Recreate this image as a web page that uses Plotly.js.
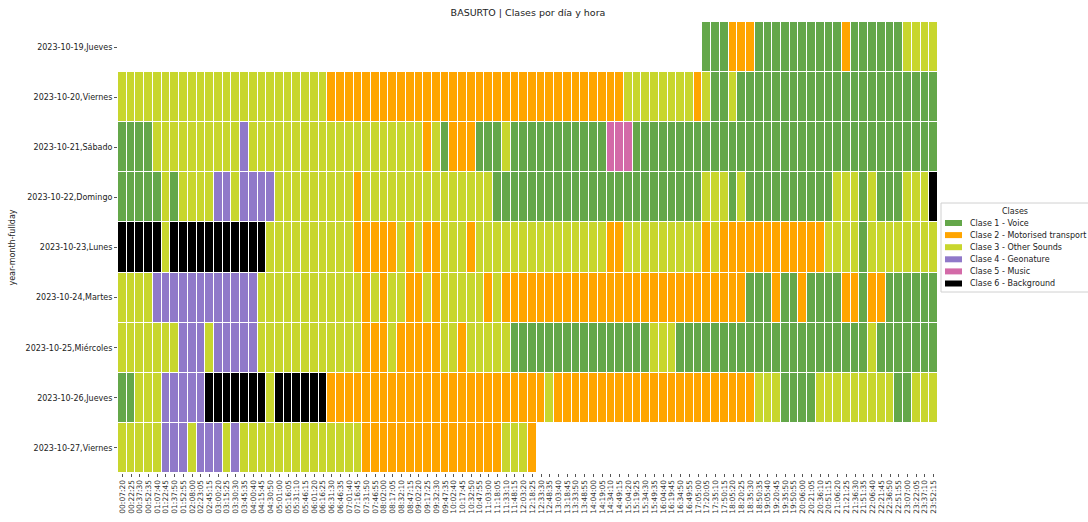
<!DOCTYPE html>
<html>
<head>
<meta charset="utf-8">
<script src="https://cdn.plot.ly/plotly-3.0.1.min.js"></script>
<style>html,body{margin:0;padding:0;background:#fff;}#chart{width:1088px;height:522px;}</style>
</head>
<body>
<div id="chart"></div>
<script>
const _ = null;

const days = ["2023-10-19,Jueves","2023-10-20,Viernes","2023-10-21,Sábado","2023-10-22,Domingo","2023-10-23,Lunes","2023-10-24,Martes","2023-10-25,Miércoles","2023-10-26,Jueves","2023-10-27,Viernes"];

const times = ["00:07:20","00:22:25","00:37:30","00:52:35","01:07:40","01:22:45","01:37:50","01:52:55","02:08:00","02:23:05","02:45:15","03:00:20","03:15:25","03:30:30","03:45:35","04:00:40","04:15:45","04:30:50",
"05:01:00","05:16:05","05:31:10","05:46:15","06:01:20","06:16:25","06:31:30","06:46:35","07:01:40","07:16:45","07:31:50","07:46:55","08:02:00","08:17:05","08:32:10","08:47:15","09:02:20","09:17:25","09:32:30","09:47:35","10:02:40","10:17:45","10:32:50","10:47:55","11:03:00","11:18:05","11:33:10","11:48:15","12:03:20","12:18:25","12:33:30","12:48:35","13:03:40","13:18:45","13:33:50","13:48:55","14:04:00","14:19:05","14:34:10","14:49:15","15:04:20","15:19:25","15:34:30","15:49:35","16:04:40","16:19:45","16:34:50","16:49:55","17:05:00","17:20:05","17:35:10","17:50:15","18:05:20","18:20:25","18:35:30","18:50:35","19:05:40","19:20:45","19:35:50","19:50:55","20:06:00","20:21:05","20:36:10","20:51:15","21:06:20","21:21:25","21:36:30","21:51:35","22:06:40","22:21:45","22:36:50","22:51:55","23:07:00","23:22:05","23:37:10","23:52:15"];

const classNames = ["Clase 1 - Voice","Clase 2 - Motorised transport","Clase 3 - Other Sounds","Clase 4 - Geonature","Clase 5 - Music","Clase 6 - Background"];
const classColors = ["#64a74a","#ffa500","#c8d62e","#9079c9","#d36aa8","#000000"];

const d19 = [_,_,_,_,_,_,_,_,_,_, _,_,_,_,_,_,_,_,_,_, _,_,_,_,_,_,_,_,_,_, _,_,_,_,_,_,_,_,_,_, _,_,_,_,_,_,_,_,_,_, _,_,_,_,_,_,_,_,_,_,
  _,_,_,_,_,_,_,1,1,1, 2,2,2,1,1,1,1,1,1,1, 1,1,1,2,1,1,1,1,1,1, 3,3,3,3];
const d20 = [3,3,3,3,3,3,3,3,3,3, 3,3,3,3,3,3,3,3,3,3, 3,3,3,3,2,2,2,2,2,2, 2,2,2,2,2,2,2,2,2,2, 2,2,2,2,2,2,2,2,2,2, 2,2,2,2,2,2,2,2,3,3,
  3,3,3,3,3,3,2,3,1,1, 3,1,1,1,1,1,1,1,1,1, 1,1,1,1,1,1,1,1,1,1, 1,1,1,1];
const d21 = [1,1,1,1,3,3,3,3,3,3, 3,3,3,3,4,3,3,3,3,3, 3,3,3,3,3,3,3,3,3,3, 3,3,3,3,3,2,3,1,2,2, 2,1,1,1,3,1,1,1,1,1, 1,1,1,1,1,1,5,5,5,1,
  1,1,1,1,1,1,1,1,1,1, 1,1,1,1,1,1,1,1,1,1, 1,1,1,1,1,1,1,1,1,1, 1,1,1,1];
const d22 = [1,1,1,1,1,3,1,3,3,3, 3,4,4,3,4,4,4,4,3,3, 3,3,3,3,3,3,3,2,3,3, 3,3,3,3,3,3,3,3,3,3, 3,3,3,1,1,1,1,1,1,1, 1,1,1,1,1,1,1,1,1,1,
  1,1,1,1,1,1,1,3,3,3, 1,3,1,1,1,1,1,1,1,1, 1,1,3,3,3,1,3,1,1,1, 3,3,3,6];
const d23 = [6,6,6,6,6,3,6,6,6,6, 6,6,6,6,6,6,6,3,3,3, 3,3,3,3,3,3,3,2,2,2, 2,2,3,2,3,2,2,3,3,3, 2,3,3,3,3,3,3,3,3,3, 3,3,3,3,3,3,2,2,3,3,
  3,3,3,3,3,3,3,2,3,2, 2,2,2,2,2,2,2,2,2,2, 2,3,3,3,3,1,3,3,3,3, 3,3,3,3];
const d24 = [3,3,3,3,4,4,4,4,4,4, 4,4,4,4,4,4,3,3,3,3, 3,3,3,3,3,3,3,3,2,3, 2,3,3,2,2,3,2,3,3,3, 3,3,2,3,2,2,2,2,2,2, 2,2,2,2,2,2,2,2,2,2,
  2,2,2,2,2,2,2,2,2,2, 2,2,1,1,1,2,1,1,2,1, 1,1,1,2,2,1,2,2,1,1, 1,1,1,1];
const d25 = [3,3,3,3,3,3,3,4,4,4, 3,4,4,4,4,4,3,3,3,3, 3,3,3,3,3,3,3,3,2,2, 2,3,2,2,2,2,2,3,3,2, 3,3,3,3,3,1,1,1,1,1, 1,1,1,1,1,1,1,1,1,1,
  1,3,3,3,1,1,1,1,1,1, 1,1,1,1,1,1,1,1,1,1, 1,1,1,1,1,1,3,1,1,1, 1,1,1,1];
const d26 = [1,1,3,3,3,4,4,4,4,4, 6,6,6,6,6,6,6,3,6,6, 6,6,6,6,2,2,2,2,2,2, 2,2,2,2,2,2,2,2,2,2, 2,2,2,2,2,2,2,2,2,3, 2,2,2,2,2,2,2,2,2,2,
  2,2,2,2,2,2,2,2,2,2, 2,2,2,3,3,3,1,1,1,1, 3,3,3,3,3,3,3,3,3,1, 1,3,3,3];
const d27 = [3,3,3,3,3,4,4,4,3,4, 4,4,3,4,3,3,3,3,3,3, 3,3,3,3,3,3,3,3,2,2, 2,2,2,2,2,2,2,2,2,2, 2,2,2,2,3,3,3,2,_,_, _,_,_,_,_,_,_,_,_,_,
  _,_,_,_,_,_,_,_,_,_, _,_,_,_,_,_,_,_,_,_, _,_,_,_,_,_,_,_,_,_, _,_,_,_];

const zRows = [d19,d20,d21,d22,d23,d24,d25,d26,d27];

// stepped colorscale for discrete classes 1..6
const n = classColors.length;
const colorscale = [];
classColors.forEach((c,i)=>{ colorscale.push([i/n,c]); colorscale.push([(i+1)/n,c]); });

const W = 1088, H = 522, L = 118, R = 150, T = 22, B = 49;
const pw = W-L-R, ph = H-T-B;
const xp = px => (px-L)/pw;
const yp = py => (H-B-py)/ph;

const trace = {
  type: 'heatmap',
  x: times, y: days, z: zRows,
  zmin: 0.5, zmax: n+0.5,
  colorscale: colorscale,
  showscale: false,
  xgap: 1, ygap: 1,
  hoverongaps: false
};

// Legend drawn as a boxed key
const shapes = [{type:'rect', xref:'paper', yref:'paper', x0:xp(941), x1:xp(1096), y0:yp(292), y1:yp(203),
  line:{color:'#d0d0d0', width:1}, fillcolor:'rgba(255,255,255,0.9)'}];
const annotations = [{xref:'paper', yref:'paper', x:xp(1015), y:yp(211), text:'Clases', showarrow:false,
  xanchor:'center', yanchor:'middle', font:{size:8, color:'#222'}}];
classNames.forEach((name,i)=>{
  const cy = 223 + 12.1*i;
  shapes.push({type:'rect', xref:'paper', yref:'paper', x0:xp(945), x1:xp(962), y0:yp(cy+3), y1:yp(cy-3),
    line:{width:0}, fillcolor:classColors[i]});
  annotations.push({xref:'paper', yref:'paper', x:xp(968), y:yp(cy), text:name, showarrow:false,
    xanchor:'left', yanchor:'middle', font:{size:8, color:'#222'}});
});

const layout = {
  width: W, height: H,
  margin: {l:L, r:R, t:T, b:B, pad:0},
  paper_bgcolor: '#fff', plot_bgcolor: '#fff',
  font: {family: 'DejaVu Sans, sans-serif', size: 8, color: '#222'},
  title: {text: 'BASURTO | Clases por día y hora', x: xp(528), xref:'paper', xanchor:'center',
          y: 1-13/H, yref:'container', yanchor:'middle', font:{size:9.5, color:'#222'}},
  xaxis: {type:'category', tickmode:'array', tickvals: times, ticktext: times, tickangle: -90,
          ticks:'outside', ticklen:3, tickcolor:'#555', tickfont:{size:7.5, color:'#333'}, showgrid:false, zeroline:false,
          showline:false, automargin:false},
  yaxis: {type:'category', autorange:'reversed', ticks:'outside', ticklen:3, tickcolor:'#555',
          tickfont:{size:8}, showgrid:false, zeroline:false, showline:false, automargin:false,
          title:{text:'year-month-fullday', font:{size:8}, standoff:8}},
  shapes: shapes,
  annotations: annotations,
  showlegend: false
};

Plotly.newPlot('chart', [trace], layout, {displayModeBar:false, responsive:false});
</script>
</body>
</html>
